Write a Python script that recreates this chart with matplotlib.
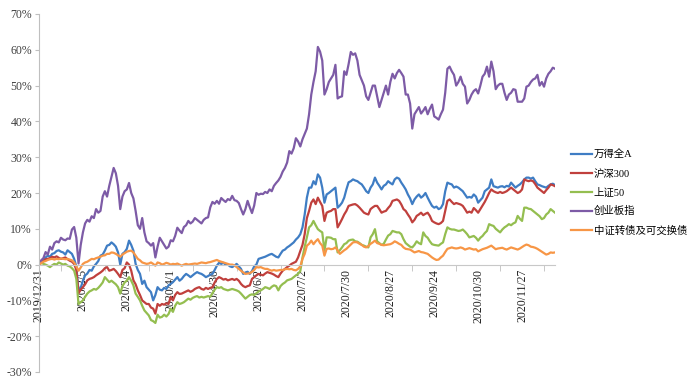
import numpy as np
import matplotlib
matplotlib.use("Agg")
import matplotlib.pyplot as plt
from matplotlib.ticker import FuncFormatter

plt.rcParams['font.family'] = ['Liberation Serif', 'Noto Sans CJK SC']

series_names = ['万得全A', '沪深300', '上证50', '创业板指', '中证转债及可交换债']
tick_labels = ['2019/12/31', '2020/2/5', '2020/3/4', '2020/4/1', '2020/4/30', '2020/6/2',
               '2020/7/2', '2020/7/30', '2020/8/27', '2020/9/24', '2020/10/30', '2020/11/27']

wind_a = [
    0.0, 0.8, 1.5, 2.0, 2.5, 2.2, 3.0, 3.2, 3.8, 4.0,
    3.6, 3.4, 2.8, 4.0, 3.5, 3.0, 1.6, -0.5, -7.5, -6.5,
    -4.5, -3.0, -2.5, -1.5, -1.7, -0.5, 0.2, 1.0, 2.5, 2.8,
    3.9, 5.3, 5.5, 6.2, 5.7, 5.0, 3.4, 0.0, 3.0, 3.5,
    4.4, 6.7, 5.5, 3.9, 0.2, -1.5, -2.6, -5.4, -4.5, -6.3,
    -7.0, -7.7, -10.0, -8.5, -6.3, -7.0, -7.2, -6.5, -6.8, -5.8,
    -5.4, -4.9, -4.2, -3.5, -4.5, -4.0, -3.2, -2.6, -3.0, -3.5,
    -3.0, -2.5, -2.1, -2.4, -2.6, -3.0, -3.5, -3.2, -2.8, -2.6,
    -1.5, -0.3, 0.5, 0.2, 0.5, 0.0, 0.0, -0.5, -0.7, -0.3,
    0.2, -0.5, -1.2, -2.6, -2.2, -2.0, -2.6, -1.8, -0.5, 0.0,
    1.6, 1.8, 2.0, 2.2, 2.5, 2.8, 3.0, 2.6, 2.2, 2.0,
    3.0, 3.9, 4.2, 4.8, 5.2, 5.7, 6.2, 7.0, 7.6, 8.5,
    10.4, 14.0, 18.7, 21.5, 21.5, 23.3, 22.4, 25.2, 24.3, 21.5,
    17.3, 19.6, 20.0, 20.5, 21.0, 21.5, 15.9, 16.5, 17.3, 18.7,
    21.0, 23.0, 23.3, 23.8, 23.5, 23.3, 22.8, 22.4, 21.5, 20.5,
    20.0, 21.5, 22.4, 24.3, 22.9, 22.0, 21.0, 22.0, 22.4, 23.3,
    22.8, 22.4, 23.8, 24.3, 24.0, 22.9, 22.0, 21.0, 19.6, 18.5,
    16.9, 18.2, 19.0, 19.6, 18.7, 19.2, 20.0, 18.7, 17.5, 16.4,
    15.9, 16.2, 15.5, 15.8, 16.9, 20.5, 22.9, 22.6, 22.4, 21.5,
    21.8, 21.5, 21.0, 20.5, 19.6, 18.7, 18.9, 18.7, 19.6, 19.0,
    17.3, 18.0, 18.7, 20.5, 21.0, 21.5, 23.8, 21.9, 21.7, 21.5,
    21.8, 21.9, 21.6, 22.0, 21.8, 22.9, 22.2, 21.5, 22.0, 22.4,
    23.0, 23.8, 24.3, 24.3, 24.0, 24.3, 23.3, 22.4, 22.2, 21.9,
    21.7, 21.5, 22.0, 22.4, 22.6, 22.2]

hs300 = [
    0.0, 0.5, 1.0, 1.5, 1.6, 1.8, 2.2, 2.0, 2.3, 1.9,
    1.6, 1.8, 2.0, 1.5, 1.1, 0.8, 0.2, -1.5, -8.0, -7.0,
    -6.3, -5.5, -4.4, -4.0, -3.8, -3.5, -3.0, -2.6, -2.2, -1.7,
    -1.0, -0.7, -1.7, -1.5, -1.2, -1.8, -2.6, -3.5, -1.5, -1.0,
    0.6, 0.0, -1.7, -4.4, -5.5, -7.2, -8.5, -10.0, -10.5, -11.0,
    -11.0, -12.0, -12.3, -13.7, -11.0, -11.5, -11.0, -11.2, -10.8, -11.0,
    -9.0, -10.0, -8.5, -7.7, -8.2, -8.1, -7.8, -7.5, -7.2, -7.6,
    -7.3, -6.8, -6.5, -6.3, -6.8, -7.0, -6.5, -6.8, -6.5, -6.3,
    -5.0, -4.0, -3.5, -3.8, -4.2, -4.0, -4.4, -4.2, -4.0, -4.3,
    -4.0, -4.5, -5.4, -6.0, -6.3, -6.0, -5.8, -4.0, -3.5, -3.0,
    -2.6, -2.8, -3.0, -2.5, -2.1, -2.3, -2.5, -2.8, -3.2, -3.5,
    -2.5, -1.7, -1.2, -0.7, -0.3, 0.2, 0.5, 0.8, 2.0, 3.8,
    5.5, 8.5, 13.0, 15.0, 17.3, 18.2, 16.9, 18.7, 17.5, 16.4,
    12.2, 14.5, 14.8, 15.0, 15.5, 15.5, 10.4, 11.5, 12.7, 14.0,
    15.0, 16.4, 16.6, 16.8, 16.9, 16.5, 15.9, 15.2, 14.5, 14.2,
    14.0, 15.5, 16.0, 16.4, 16.4, 15.5, 14.5, 14.8, 15.0, 15.8,
    16.5, 17.8, 18.0, 18.2, 17.8, 16.8, 15.5, 15.0, 14.0, 13.1,
    11.8, 12.5, 13.6, 14.0, 14.5, 13.8, 14.2, 14.5, 13.6, 12.2,
    11.8, 11.5, 11.3, 11.6, 12.2, 15.0, 17.8, 18.2, 17.5, 16.9,
    17.2, 17.0, 16.8, 16.4, 15.5, 14.5, 14.8, 14.5, 15.8, 15.2,
    14.5, 15.5, 16.5, 17.5, 18.7, 20.0, 21.0, 20.5, 20.2, 20.0,
    20.3, 20.0, 20.2, 20.5, 21.0, 21.5, 21.0, 20.5, 20.0, 20.3,
    21.0, 23.8, 23.5, 23.3, 23.5, 23.3, 22.5, 21.5, 21.0, 20.5,
    20.0, 20.8, 21.5, 22.4, 22.2, 21.9]

sz50 = [
    0.0, 0.5, 0.2, 0.0, -0.3, -0.7, -0.2, 0.2, 0.0, 0.6,
    0.3, 0.0, 0.2, -0.3, -0.5, -1.0, -1.7, -4.0, -11.0, -10.5,
    -10.0, -9.0, -8.1, -7.5, -7.2, -6.8, -7.0, -6.5, -5.8, -5.0,
    -3.5, -4.2, -4.9, -4.5, -5.0, -5.5, -6.3, -8.1, -6.0, -5.0,
    -4.5, -3.5, -4.5, -5.8, -8.1, -9.0, -10.0, -11.5, -12.8, -13.5,
    -14.2, -15.5, -15.8, -16.3, -14.0, -14.8, -14.6, -14.0, -14.5, -13.8,
    -12.3, -13.2, -11.5, -10.5, -11.0, -10.8, -10.5, -10.0, -9.5, -9.8,
    -9.3, -9.0, -8.8, -9.2, -9.0, -9.2, -9.0, -8.8, -9.0, -8.0,
    -7.0, -6.3, -6.5, -6.3, -6.8, -7.0, -7.2, -7.0, -6.8, -7.0,
    -7.2, -7.5, -8.1, -8.8, -9.5, -9.0, -8.5, -8.3, -8.5, -8.0,
    -7.5, -7.2, -6.8, -6.3, -6.5, -6.8, -6.2, -5.8, -6.0, -7.2,
    -6.0, -5.4, -5.0, -4.4, -4.2, -4.0, -3.5, -3.0, -2.6, -1.8,
    2.0, 5.0, 7.6, 10.4, 11.0, 12.2, 11.0, 9.9, 9.4, 9.0,
    3.9, 7.6, 7.6, 7.5, 7.1, 7.1, 3.4, 4.0, 4.8, 5.7,
    6.0, 6.7, 6.9, 7.0, 6.5, 6.4, 6.0, 5.5, 5.3, 5.0,
    4.8, 7.6, 8.5, 9.9, 6.5, 6.0, 5.5, 5.8, 7.0, 8.1,
    8.5, 9.4, 9.2, 9.0, 9.0, 8.5, 7.1, 6.0, 5.5, 5.0,
    4.8, 5.5, 6.5, 6.0, 5.7, 9.0, 8.0, 7.5, 6.5, 5.7,
    5.5, 5.4, 5.3, 5.8, 6.2, 8.5, 10.4, 10.0, 9.8, 9.8,
    9.6, 9.4, 9.5, 9.8, 9.2, 8.5, 7.6, 7.8, 8.0, 7.5,
    6.7, 7.5, 8.0, 8.8, 9.4, 11.3, 11.0, 10.8, 10.0, 9.5,
    9.0, 9.8, 10.4, 10.8, 11.3, 11.0, 11.5, 11.8, 13.6, 12.8,
    12.2, 15.9, 15.9, 15.6, 15.5, 15.0, 14.5, 14.0, 13.5, 12.7,
    13.0, 14.0, 14.5, 15.5, 15.0, 14.5]

chinext = [
    0.0, 1.2, 1.8, 3.5, 2.8, 5.0, 4.2, 6.0, 6.5, 6.2,
    7.5, 7.0, 6.8, 7.3, 7.2, 9.8, 10.5, 7.5, 0.3, 5.5,
    9.0, 11.5, 12.5, 12.0, 13.5, 13.0, 15.5, 14.5, 15.0, 19.0,
    20.5, 19.0, 22.0, 24.5, 27.0, 25.5, 22.0, 15.5, 19.0, 20.5,
    21.0, 22.8, 20.0, 18.5, 15.0, 11.0, 10.0, 13.0, 9.0, 6.5,
    6.0, 5.3, 6.0, 2.0, 5.0, 7.5, 6.5, 5.5, 4.5, 5.0,
    6.8, 6.5, 8.0, 10.3, 9.5, 8.8, 10.5, 11.0, 12.2, 11.5,
    12.0, 13.0, 12.5, 12.0, 11.5, 12.5, 13.0, 13.2, 16.0, 17.5,
    17.0, 17.8, 17.0, 18.6, 18.0, 17.5, 18.3, 18.0, 19.2, 18.0,
    17.8, 17.2, 15.5, 14.0, 15.5, 17.8, 16.0, 14.4, 16.5, 20.0,
    19.5, 19.8, 19.7, 20.3, 20.0, 21.0, 20.5, 22.0, 22.8, 23.5,
    24.5, 26.0, 27.0, 28.5, 31.7, 31.0, 32.5, 35.3, 34.4, 33.0,
    35.0, 36.5, 38.0, 42.0, 47.5, 51.0, 54.0, 60.8, 59.5, 57.0,
    47.5, 49.0, 51.0, 52.0, 53.0, 55.8, 46.4, 46.8, 47.0, 54.0,
    53.0, 56.0, 59.4, 58.6, 59.0, 57.0, 53.0, 51.5, 50.0, 47.0,
    46.0, 48.0, 50.0, 50.0, 47.0, 44.0, 46.0, 48.0, 50.0, 47.5,
    51.0, 53.3, 52.0, 53.5, 54.4, 53.5, 52.5, 47.5, 47.5, 45.0,
    38.0, 42.0, 43.0, 44.0, 42.2, 43.0, 44.0, 42.0, 43.5, 44.7,
    41.4, 41.0, 40.5, 42.0, 43.3, 48.0, 54.7, 55.3, 54.0, 53.0,
    50.0, 51.0, 52.5, 50.5, 49.7, 45.0, 46.0, 47.5, 48.5, 49.0,
    47.8, 50.0, 52.5, 53.3, 55.3, 52.5, 56.7, 54.0, 49.0, 50.0,
    50.5, 50.5, 48.0, 46.0, 47.5, 48.0, 49.0, 48.8, 45.5, 45.5,
    45.5, 46.4, 49.7, 50.0, 51.0, 51.7, 52.0, 53.0, 50.0, 51.0,
    49.7, 52.0, 53.3, 54.0, 55.0, 54.7]

cbond = [
    0.0, 0.4, 0.8, 1.0, 1.3, 1.5, 1.6, 1.4, 1.6, 1.5,
    1.7, 1.6, 1.5, 1.6, 1.4, 1.2, 0.6, -0.5, -1.7, -0.8,
    0.2, 0.6, 0.8, 1.2, 1.6, 1.5, 1.8, 2.0, 2.2, 2.5,
    2.6, 3.0, 3.0, 3.4, 3.3, 3.0, 2.6, 2.2, 2.8, 3.2,
    3.6, 3.8, 3.9, 3.4, 2.5, 1.6, 1.2, 0.6, 0.4, 0.2,
    0.3, 0.6, 0.2, -0.3, 0.6, 0.4, 0.0, 0.2, 0.5, 0.3,
    0.0, 0.2, 0.1, 0.3, 0.0, -0.3, 0.0, 0.2, 0.0, 0.1,
    0.2, 0.3, 0.2, 0.4, 0.6, 0.5, 0.4, 0.6, 0.7, 0.9,
    1.1, 1.3, 1.0, 0.8, 0.6, 0.4, 0.2, 0.0, 0.0, -0.2,
    -0.7, -1.2, -1.7, -2.2, -2.6, -2.5, -2.4, -2.0, -1.5, -0.7,
    -0.8, -0.7, -1.0, -1.2, -1.2, -1.5, -1.7, -1.5, -1.7, -1.6,
    -1.5, -1.5, -1.3, -1.2, -1.3, -1.2, -1.5, -1.6, -1.2, -0.5,
    1.6, 3.0, 5.3, 5.8, 6.7, 5.7, 6.5, 7.1, 6.0, 5.3,
    2.5, 4.4, 4.5, 4.3, 4.4, 4.8, 4.0, 3.0, 3.5, 4.0,
    4.4, 5.0, 5.6, 6.2, 6.3, 6.2, 5.8, 5.5, 5.0, 4.8,
    5.2, 5.8, 6.2, 6.7, 6.0, 5.8, 5.5, 5.4, 5.5, 5.6,
    5.7, 6.0, 6.5, 6.2, 5.8, 5.5, 4.8, 4.4, 4.3, 4.2,
    3.8, 3.4, 3.6, 3.8, 3.5, 3.4, 3.2, 3.0, 2.5, 2.0,
    1.6, 1.3, 1.4, 2.0, 2.5, 3.5, 4.4, 4.6, 4.8, 4.6,
    4.5, 4.6, 4.8, 4.6, 4.2, 4.4, 4.6, 4.4, 4.2, 4.3,
    3.7, 4.0, 4.3, 4.5, 4.7, 5.0, 5.3, 4.8, 4.3, 4.5,
    4.6, 4.7, 4.4, 4.2, 4.5, 4.8, 4.6, 4.4, 4.2, 4.5,
    4.9, 5.3, 5.6, 5.4, 5.0, 4.9, 4.7, 4.4, 4.0, 3.6,
    3.2, 2.8, 3.0, 3.4, 3.3, 3.4]

colors = ['#3F7DC4', '#C0403D', '#94BE50', '#7D5BA6', '#F79646']
all_series = [wind_a, hs300, sz50, chinext, cbond]

fig = plt.figure(figsize=(7.0, 3.84), dpi=100)
ax = fig.add_axes([39 / 700, 1 - 372 / 384, (555 - 39) / 700, (372 - 14) / 384])

# spines first (set_position resets tick properties)
ax.spines['bottom'].set_position(('data', 0))
ax.spines['bottom'].set_color('#C8C8C8')
ax.spines['left'].set_color('#BFBFBF')
ax.spines['top'].set_visible(False)
ax.spines['right'].set_visible(False)
ax.set_axisbelow(True)
ax.patch.set_alpha(0)

for vals, name, c in zip(all_series, series_names, colors):
    x = np.arange(len(vals))
    ax.plot(x, vals, color=c, lw=1.6, label=name, solid_joinstyle='round')

n = len(wind_a)
ax.set_xlim(0, n - 1)
ax.set_ylim(-30, 70)
ax.set_yticks(np.arange(-30, 71, 10))
ax.yaxis.set_major_formatter(FuncFormatter(lambda v, p: f'{int(round(v))}%'))
ax.tick_params(axis='y', direction='out', length=3, color='#BFBFBF',
               labelsize=8.5, labelcolor='#404040', pad=2)

ax.set_xticks(np.arange(0, 221, 20))
ax.set_xticklabels(tick_labels)
ax.set_xticks(np.arange(10, n, 20), minor=True)
ax.tick_params(axis='x', which='major', direction='out', length=0,
               labelsize=8.5, labelcolor='#202020', pad=3, labelrotation=90)
ax.tick_params(axis='x', which='minor', direction='out', length=4, color='#BFBFBF')
for lab in ax.get_xticklabels():
    lab.set_verticalalignment('top')
    lab.set_horizontalalignment('center')

fig.legend(loc='upper left', bbox_to_anchor=(571 / 700, 1 - 150 / 384),
           frameon=False, fontsize=7.5, handlelength=2.0, handletextpad=0.2,
           labelspacing=0.85, borderpad=0, borderaxespad=0)

fig.savefig('out.png', dpi=100)
